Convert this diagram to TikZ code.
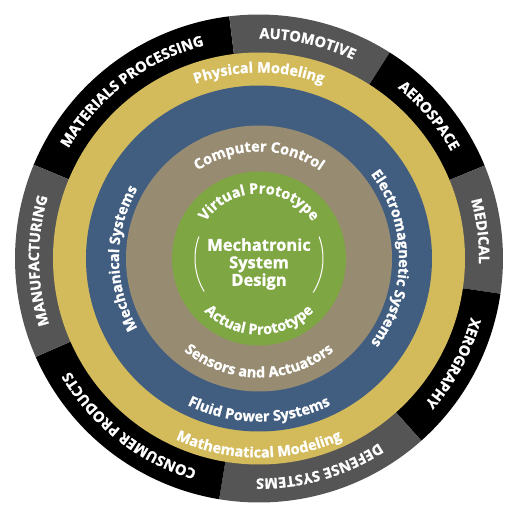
\documentclass[tikz,border=0pt]{standalone}
\usepackage{fontspec}
\setmainfont{Open Sans}[BoldFeatures={FakeBold=1.2}]
\usetikzlibrary{decorations.text}

\definecolor{ringgold}{RGB}{211,187,92}
\definecolor{ringblue}{RGB}{65,94,128}
\definecolor{ringtan}{RGB}{151,139,113}
\definecolor{ringgreen}{RGB}{126,166,66}
\definecolor{segdark}{RGB}{0,0,0}
\definecolor{seggray}{RGB}{85,85,85}

\newcommand\capsfont{\bfseries\fontsize{14.5}{15}\selectfont}
\newcommand\ringfont{\bfseries\fontsize{14.5}{15}\selectfont}

% text on an arc: font, radius, from angle, to angle, text
\newcommand\arclabel[5]{%
  \path[decorate, decoration={text along path, text align=center,
    text color=white, text={|#1|#5}}]
    (#3:#2pt) arc[start angle=#3, end angle=#4, radius=#2pt];}

\tikzset{
  segment/.style={fill=#1},
  guide/.style={draw=white, line width=1pt}
}

\begin{document}
\begin{tikzpicture}
\useasboundingbox (-259pt,-261.5pt) rectangle (261pt,258.5pt);

% outer application segments
\fill[segment=segdark] (0,0) -- (157.4:244pt) arc[start angle=157.4, end angle=97, radius=244pt] -- cycle;
\fill[segment=seggray] (0,0) -- (97:244pt) arc[start angle=97, end angle=57.6, radius=244pt] -- cycle;
\fill[segment=segdark] (0,0) -- (57.6:244pt) arc[start angle=57.6, end angle=22.4, radius=244pt] -- cycle;
\fill[segment=seggray] (0,0) -- (22.4:244pt) arc[start angle=22.4, end angle=-8.3, radius=244pt] -- cycle;
\fill[segment=segdark] (0,0) -- (-8.3:244pt) arc[start angle=-8.3, end angle=-48.3, radius=244pt] -- cycle;
\fill[segment=seggray] (0,0) -- (-48.3:244pt) arc[start angle=-48.3, end angle=-99.4, radius=244pt] -- cycle;
\fill[segment=segdark] (0,0) -- (-99.4:244pt) arc[start angle=-99.4, end angle=-156.2, radius=244pt] -- cycle;
\fill[segment=seggray] (0,0) -- (-156.2:244pt) arc[start angle=-156.2, end angle=-202.6, radius=244pt] -- cycle;

% rings
\fill[ringgold] (0,0) circle (206pt);
\fill[ringblue] (0,0) circle (173pt);
\fill[ringtan] (0,0) circle (133pt);
\fill[ringgreen] (0,0) circle (87pt);

\arclabel{\capsfont}{220}{157.4}{97}{MATERIALS PROCESSING}
\arclabel{\capsfont}{220}{97}{57.6}{AUTOMOTIVE}
\arclabel{\capsfont}{220}{57.6}{22.4}{AEROSPACE}
\arclabel{\capsfont}{220}{22.4}{-8.3}{MEDICAL}
\arclabel{\capsfont}{220}{-8.3}{-48.3}{XEROGRAPHY}
\arclabel{\capsfont}{220}{-48.3}{-99.4}{DEFENSE SYSTEMS}
\arclabel{\capsfont}{220}{-99.4}{-156.2}{CONSUMER PRODUCTS}
\arclabel{\capsfont}{220}{-156.2}{-202.6}{MANUFACTURING}

\arclabel{\ringfont}{186}{140}{40}{Physical Modeling}
\arclabel{\ringfont}{199}{220}{320}{Mathematical Modeling}
\arclabel{\ringfont}{140}{240}{120}{Mechanical Systems}
\arclabel{\ringfont}{140}{60}{-60}{Electromagnetic Systems}
\arclabel{\ringfont}{163}{225}{315}{Fluid Power Systems}
\arclabel{\ringfont}{107}{150}{30}{Computer Control}
\arclabel{\ringfont}{119}{200}{340}{Sensors and Actuators}
\arclabel{\ringfont}{65}{170}{10}{Virtual Prototype}
\arclabel{\ringfont}{76}{190}{350}{Actual Prototype}

% prototype guides
\draw[guide] (160:64pt) arc[start angle=160, end angle=211, radius=64pt];
\draw[guide] (20:64pt) arc[start angle=20, end angle=-32, radius=64pt];

\node[text=white, align=center, font=\bfseries\fontsize{16.5}{17.5}\selectfont] (title) at (0,-5.5pt) {Mechatronic\\System\\Design};
\end{tikzpicture}
\end{document}
